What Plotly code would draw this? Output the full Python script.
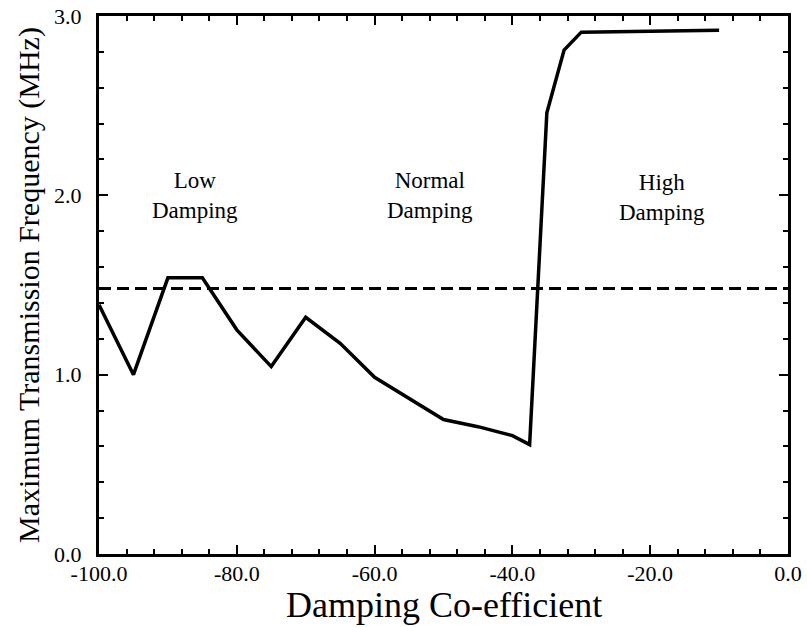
import plotly.graph_objects as go

# Data
damping = [-100, -95, -90, -85, -80, -75, -70, -65, -60, -50, -45, -40, -37.5, -35, -32.5, -30, -10]
max_freq = [1.39, 1.00, 1.54, 1.54, 1.25, 1.045, 1.32, 1.175, 0.985, 0.75, 0.71, 0.66, 0.61, 2.46, 2.81, 2.91, 2.92]
ref_x = [-100, 0]
ref_y = [1.48, 1.48]

x_ticks = [-100, -80, -60, -40, -20, 0]
x_tick_text = ["-100.0", "-80.0", "-60.0", "-40.0", "-20.0", "0.0"]
y_ticks = [0, 1, 2, 3]
y_tick_text = ["0.0", "1.0", "2.0", "3.0"]

x_title = "Damping Co-efficient"
y_title = "Maximum Transmission Frequency (MHz)"

labels = [
    ("Low<br>Damping", -86.0, 2.0),
    ("Normal<br>Damping", -52.0, 2.0),
    ("High<br>Damping", -18.3, 1.99),
]

FONT = "Times New Roman"

fig = go.Figure()
fig.add_trace(go.Scatter(x=ref_x, y=ref_y, mode="lines",
                         line=dict(color="black", width=3, dash="12px,6px"),
                         showlegend=False))
fig.add_trace(go.Scatter(x=damping, y=max_freq, mode="lines",
                         line=dict(color="black", width=3.5),
                         showlegend=False))

for txt, xv, yv in labels:
    fig.add_annotation(x=xv, y=yv, text=txt, showarrow=False,
                       font=dict(family=FONT, size=23, color="black"),
                       xanchor="center", yanchor="middle", align="center")

# x-axis title placed at the bottom edge, below the tick labels
fig.add_annotation(x=0.5, y=-0.134, xref="paper", yref="paper", text=x_title,
                   showarrow=False, xanchor="center", yanchor="bottom",
                   font=dict(family=FONT, size=36, color="black"), borderpad=0)

axis_common = dict(showline=True, linecolor="black", linewidth=3, mirror="ticks",
                   ticks="inside", tickcolor="black", tickwidth=2, ticklen=9,
                   showgrid=False, zeroline=False, automargin=False,
                   tickfont=dict(family=FONT, size=22, color="black"))

fig.update_xaxes(range=[-100, 0], tickvals=x_ticks, ticktext=x_tick_text,
                 minor=dict(dtick=4, tick0=0, ticks="inside", ticklen=5, tickwidth=2, tickcolor="black", showgrid=False),
                 ticklabelstandoff=-2,
                 **axis_common)
fig.update_yaxes(range=[0, 3], tickvals=y_ticks, ticktext=y_tick_text,
                 minor=dict(dtick=0.2, tick0=0, ticks="inside", ticklen=5, tickwidth=2, tickcolor="black", showgrid=False),
                 title=dict(text=y_title, font=dict(family=FONT, size=30, color="black"), standoff=6),
                 ticklabelstandoff=10,
                 **axis_common)

fig.update_layout(width=807, height=627, margin=dict(l=99, r=19, t=16, b=73),
                  plot_bgcolor="white", paper_bgcolor="white",
                  font=dict(family=FONT, color="black"))

fig.write_html("out.html")
